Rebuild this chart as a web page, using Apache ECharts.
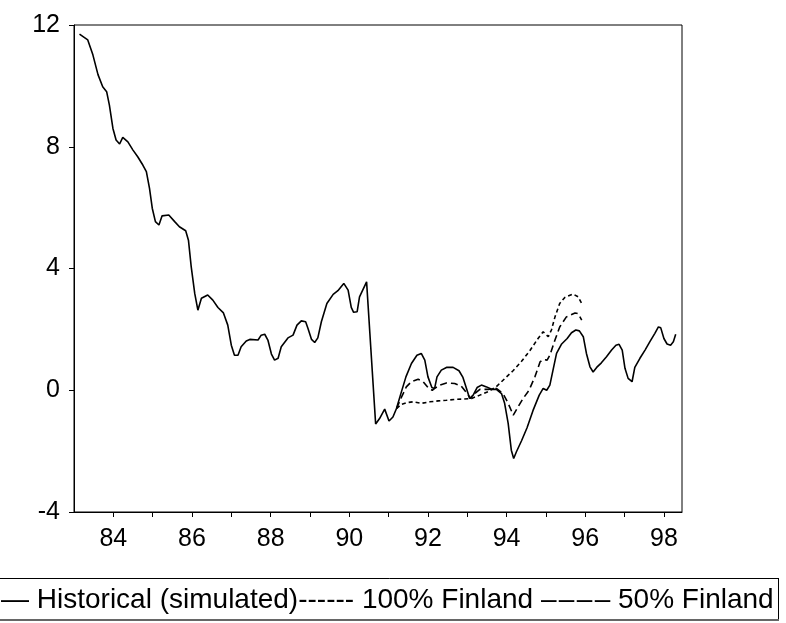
<!DOCTYPE html>
<html>
<head>
<meta charset="utf-8">
<script src="https://cdn.jsdelivr.net/npm/echarts@6/dist/echarts.min.js"></script>
<style>
html,body{margin:0;padding:0;background:#fff;}
#c{width:786px;height:623px;}
</style>
</head>
<body>
<div id="c"></div>
<script>
// Time in decimal years (83 = 1983)
const histT = [83.14,83.35,83.48,83.61,83.73,83.83,83.90,83.99,84.07,84.16,84.24,84.37,84.50,84.62,84.75,84.84,84.92,84.99,85.07,85.16,85.24,85.41,85.56,85.68,85.84,85.91,85.98,86.07,86.15,86.24,86.40,86.53,86.66,86.80,86.91,87.00,87.08,87.17,87.25,87.38,87.47,87.68,87.76,87.85,87.93,88.02,88.10,88.19,88.27,88.44,88.57,88.67,88.78,88.89,88.95,89.04,89.12,89.20,89.29,89.43,89.59,89.71,89.86,89.97,90.05,90.11,90.20,90.26,90.44,90.67,90.77,90.90,91.01,91.11,91.20,91.30,91.44,91.58,91.72,91.83,91.92,92.00,92.10,92.17,92.23,92.34,92.47,92.64,92.79,92.89,92.98,93.06,93.15,93.25,93.36,93.49,93.62,93.74,93.87,93.95,94.04,94.12,94.18,94.25,94.38,94.52,94.67,94.83,94.93,95.02,95.10,95.18,95.27,95.40,95.54,95.65,95.76,95.85,95.95,96.03,96.12,96.20,96.29,96.41,96.54,96.67,96.78,96.86,96.94,97.01,97.09,97.19,97.26,97.39,97.52,97.64,97.77,97.86,97.92,98.00,98.08,98.17,98.24,98.30];
const histV = [11.70,11.51,11.02,10.37,9.97,9.81,9.37,8.60,8.22,8.09,8.31,8.16,7.89,7.67,7.40,7.18,6.63,5.98,5.54,5.43,5.73,5.76,5.54,5.37,5.24,4.93,4.06,3.18,2.63,3.02,3.13,2.96,2.72,2.54,2.14,1.48,1.15,1.15,1.43,1.62,1.67,1.65,1.81,1.84,1.65,1.19,0.99,1.05,1.43,1.72,1.81,2.14,2.28,2.25,2.03,1.67,1.57,1.72,2.25,2.85,3.15,3.27,3.51,3.29,2.72,2.56,2.58,3.07,3.56,-1.11,-0.93,-0.62,-1.01,-0.88,-0.60,-0.16,0.44,0.88,1.15,1.21,0.99,0.44,0.09,0.06,0.44,0.66,0.75,0.75,0.64,0.42,0.06,-0.27,-0.16,0.09,0.17,0.11,0.03,0.03,-0.11,-0.43,-1.09,-1.97,-2.24,-2.02,-1.66,-1.23,-0.67,-0.16,0.06,0.00,0.17,0.66,1.21,1.52,1.70,1.89,1.98,1.95,1.76,1.21,0.77,0.60,0.75,0.90,1.10,1.32,1.48,1.51,1.32,0.72,0.39,0.28,0.75,1.05,1.32,1.59,1.87,2.08,2.05,1.70,1.52,1.48,1.59,1.84];

const fin100T = [91.20,91.33,91.45,91.62,91.83,92.05,92.26,92.47,92.68,92.89,93.11,93.32,93.53,93.74,93.95,94.17,94.38,94.59,94.80,94.93,95.06,95.14,95.23,95.35,95.48,95.69,95.82,95.91];
const fin100V = [-0.60,-0.46,-0.41,-0.38,-0.43,-0.38,-0.35,-0.33,-0.30,-0.29,-0.27,-0.16,-0.05,0.12,0.38,0.65,0.95,1.30,1.70,1.92,1.76,1.98,2.41,2.85,3.05,3.16,3.07,2.85];

const fin50T = [91.20,91.33,91.45,91.58,91.75,91.88,92.00,92.11,92.17,92.30,92.47,92.68,92.85,93.00,93.08,93.19,93.32,93.53,93.74,93.91,94.04,94.17,94.29,94.42,94.57,94.72,94.85,94.93,95.03,95.10,95.23,95.35,95.52,95.74,95.82,95.91];
const fin50V = [-0.60,-0.22,0.11,0.28,0.36,0.28,0.09,0.00,0.06,0.17,0.24,0.22,0.13,-0.11,-0.27,-0.11,0.03,0.03,0.06,-0.11,-0.43,-0.82,-0.55,-0.27,0.00,0.44,0.93,1.01,0.99,1.15,1.65,2.08,2.41,2.54,2.52,2.30];

const yTicks = [-4, 0, 4, 8, 12];
const xLabelYears = [84, 86, 88, 90, 92, 94, 96, 98];
const legendText = '— Historical (simulated)------ 100% Finland \u2013\u200a\u2013\u200a\u2013\u200a\u2013 50% Finland';

const zip = (t, v) => t.map((x, i) => [x, v[i]]);
const FONT = '"Liberation Sans", Arial, sans-serif';

const chart = echarts.init(document.getElementById('c'), null, {renderer: 'canvas'});
chart.setOption({
  animation: false,
  backgroundColor: '#ffffff',
  grid: {left: 74, right: 104, top: 25, bottom: 111, show: true, borderColor: '#000', borderWidth: 1, backgroundColor: 'transparent'},
  xAxis: {
    type: 'value', min: 83, max: 98.46, interval: 1,
    axisLine: {show: true, onZero: false, lineStyle: {color: '#000', width: 1}},
    axisTick: {show: true, inside: false, length: 5, lineStyle: {color: '#000'}},
    splitLine: {show: false},
    axisLabel: {
      color: '#000', fontFamily: FONT, fontSize: 25, margin: 15,
      showMinLabel: false, showMaxLabel: false,
      formatter: v => xLabelYears.indexOf(Math.round(v)) >= 0 && Math.abs(v - Math.round(v)) < 1e-6 ? String(Math.round(v)) : ''
    }
  },
  yAxis: {
    type: 'value', min: yTicks[0], max: yTicks[yTicks.length - 1], interval: 4,
    axisLine: {show: true, onZero: false, lineStyle: {color: '#000', width: 1}},
    axisTick: {show: true, inside: false, length: 5, lineStyle: {color: '#000'}},
    splitLine: {show: false},
    axisLabel: {color: '#000', fontFamily: FONT, fontSize: 25, margin: 14}
  },
  series: [
    {name: 'Historical (simulated)', type: 'line', data: zip(histT, histV), showSymbol: false, symbol: 'none',
     lineStyle: {color: '#000', width: 1.6}, z: 3},
    {name: '100% Finland', type: 'line', data: zip(fin100T, fin100V), showSymbol: false, symbol: 'none',
     lineStyle: {color: '#000', width: 1.6, type: [4, 3]}, z: 2},
    {name: '50% Finland', type: 'line', data: zip(fin50T, fin50V), showSymbol: false, symbol: 'none',
     lineStyle: {color: '#000', width: 1.6, type: [7, 4]}, z: 2}
  ],
  graphic: [
    {type: 'line', shape: {x1: 0, y1: 578.5, x2: 778.5, y2: 578.5}, style: {stroke: '#000', lineWidth: 1}},
    {type: 'line', shape: {x1: 778.5, y1: 578, x2: 778.5, y2: 620}, style: {stroke: '#000', lineWidth: 1}},
    {type: 'line', shape: {x1: 0, y1: 620, x2: 779, y2: 620}, style: {stroke: '#666', lineWidth: 2}},
    {type: 'text', x: 1, y: 600, style: {text: legendText, font: '28px ' + FONT, fill: '#000', verticalAlign: 'middle'}}
  ]
});
</script>
</body>
</html>
